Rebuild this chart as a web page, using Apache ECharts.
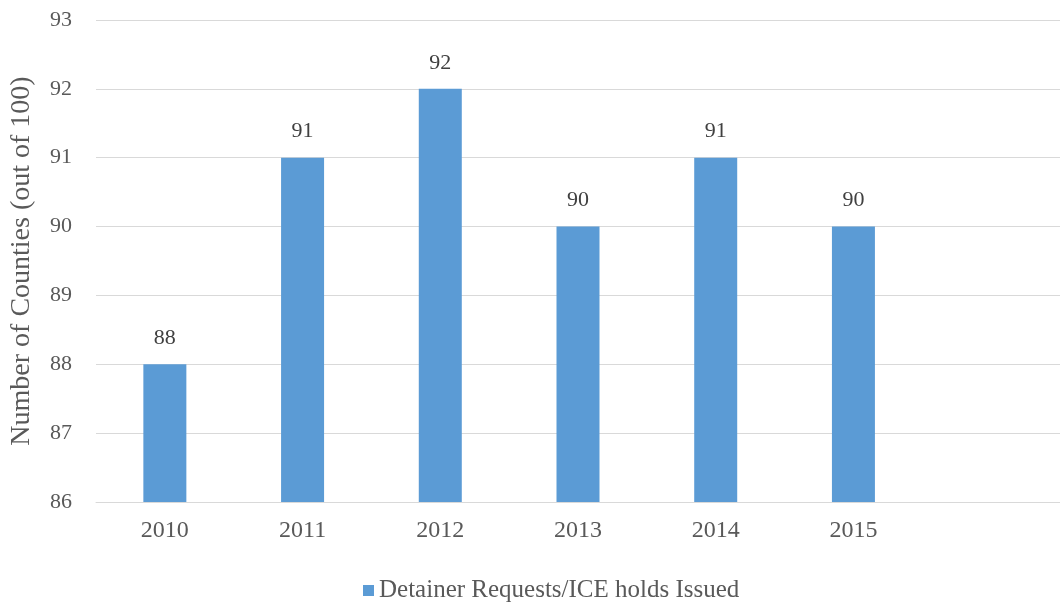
<!DOCTYPE html>
<html>
<head>
<meta charset="utf-8">
<script src="https://cdn.jsdelivr.net/npm/echarts@6/dist/echarts.min.js"></script>
<style>
  html, body { margin: 0; padding: 0; background: #ffffff; }
  #chart { width: 1060px; height: 603px; }
</style>
</head>
<body>
<div id="chart"></div>
<script>
// Years shown on the category axis (the trailing blank slot leaves room on the right)
const years = ['2010', '2011', '2012', '2013', '2014', '2015', ''];
// Counties (out of 100) issuing detainer requests / ICE holds, per year
const counties = [88, 91, 92, 90, 91, 90, null];
const seriesName = 'Detainer Requests/ICE holds Issued';
const yTitle = 'Number of Counties (out of 100)';

const FONT = '"Liberation Serif", "Times New Roman", serif';
const TEXT = '#595959';

const chart = echarts.init(document.getElementById('chart'), null, { renderer: 'canvas' });
chart.setOption({
  animation: false,
  backgroundColor: '#ffffff',
  grid: { left: 95, right: -1, top: 20, bottom: 101, containLabel: false },
  legend: {
    bottom: -5,
    left: 358,
    itemWidth: 11,
    itemHeight: 11,
    itemGap: 10,
    icon: 'rect',
    textStyle: { fontFamily: FONT, fontSize: 25, color: TEXT },
    data: [seriesName]
  },
  xAxis: {
    type: 'category',
    data: years,
    axisLine: { show: true, lineStyle: { color: '#D9D9D9', width: 1 } },
    axisTick: { show: false },
    axisLabel: { fontFamily: FONT, fontSize: 24, color: TEXT, margin: 17 },
    splitLine: { show: false }
  },
  yAxis: {
    type: 'value',
    min: 86,
    max: 93,
    interval: 1,
    name: yTitle,
    nameLocation: 'middle',
    nameGap: 60,
    nameRotate: 90,
    nameTextStyle: { fontFamily: FONT, fontSize: 28, color: TEXT },
    axisLine: { show: false },
    axisTick: { show: false },
    axisLabel: { fontFamily: FONT, fontSize: 22, color: TEXT, margin: 24 },
    splitLine: { lineStyle: { color: '#D9D9D9', width: 1 } }
  },
  series: [{
    name: seriesName,
    type: 'bar',
    data: counties,
    barWidth: 43,
    itemStyle: { color: '#5B9BD5' },
    label: {
      show: true,
      position: 'top',
      distance: 15,
      fontFamily: FONT,
      fontSize: 22,
      color: '#404040'
    }
  }]
});
</script>
</body>
</html>
